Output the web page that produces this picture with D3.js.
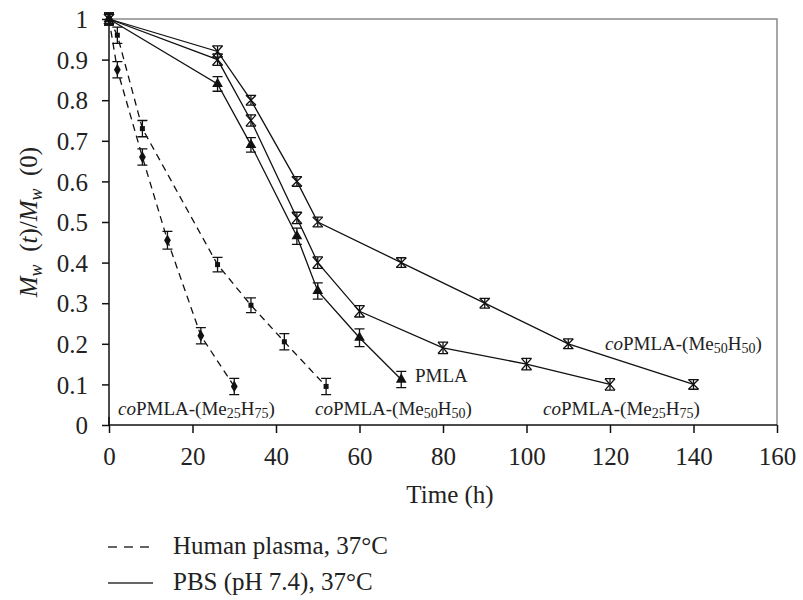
<!DOCTYPE html>
<html>
<head>
<meta charset="utf-8">
<script src="https://cdn.jsdelivr.net/npm/d3@7"></script>
<style>
  body { margin: 0; background: #fff; }
  text { font-family: "Liberation Serif", "Times New Roman", serif; fill: #222; }
</style>
</head>
<body>
<div id="chart"></div>
<script>
// Time points (h) and Mw(t)/Mw(0) values
const plasmaMe25Time = [0, 2, 8, 14, 22, 30];
const plasmaMe25Val  = [1, 0.875, 0.66, 0.455, 0.22, 0.095];
const plasmaMe25Err  = [0.015, 0.02, 0.02, 0.022, 0.02, 0.02];

const plasmaMe50Time = [0, 2, 8, 26, 34, 42, 52];
const plasmaMe50Val  = [1, 0.96, 0.73, 0.395, 0.295, 0.205, 0.095];
const plasmaMe50Err  = [0.015, 0.02, 0.02, 0.018, 0.018, 0.02, 0.02];

const pbsPmlaTime = [0, 26, 34, 45, 50, 60, 70];
const pbsPmlaVal  = [1, 0.84, 0.69, 0.465, 0.33, 0.215, 0.112];
const pbsPmlaErr  = [0.012, 0.018, 0.018, 0.02, 0.02, 0.022, 0.02];

const pbsMe25Time = [0, 26, 34, 45, 50, 60, 80, 100, 120];
const pbsMe25Val  = [1, 0.9, 0.75, 0.51, 0.4, 0.28, 0.19, 0.15, 0.1];
const pbsMe25Err  = [0.012, 0.014, 0.014, 0.014, 0.014, 0.014, 0.014, 0.014, 0.014];

const pbsMe50Time = [0, 26, 34, 45, 50, 70, 90, 110, 140];
const pbsMe50Val  = [1, 0.92, 0.8, 0.6, 0.5, 0.4, 0.3, 0.2, 0.1];
const pbsMe50Err  = [0.012, 0.014, 0.012, 0.012, 0.012, 0.012, 0.012, 0.012, 0.012];

const xTicks = [0, 20, 40, 60, 80, 100, 120, 140, 160];
const yTicks = [0, 0.1, 0.2, 0.3, 0.4, 0.5, 0.6, 0.7, 0.8, 0.9, 1];

const width = 803, height = 600;
const margin = { top: 19, right: 26, bottom: 175, left: 109 };
const serif = "Liberation Serif, Times New Roman, serif";

const svg = d3.select("#chart").append("svg")
    .attr("width", width)
    .attr("height", height);

const x = d3.scaleLinear().domain([0, 160]).range([margin.left, width - margin.right]);
const y = d3.scaleLinear().domain([0, 1]).range([height - margin.bottom, margin.top]);

const zip = (t, v, e) => t.map((d, i) => ({ t: d, v: v[i], e: e[i] }));

const series = [
    { data: zip(plasmaMe25Time, plasmaMe25Val, plasmaMe25Err), dashed: true, marker: "diamond" },
    { data: zip(plasmaMe50Time, plasmaMe50Val, plasmaMe50Err), dashed: true, marker: "square" },
    { data: zip(pbsPmlaTime, pbsPmlaVal, pbsPmlaErr), dashed: false, marker: "triangle" },
    { data: zip(pbsMe25Time, pbsMe25Val, pbsMe25Err), dashed: false, marker: "cross" },
    { data: zip(pbsMe50Time, pbsMe50Val, pbsMe50Err), dashed: false, marker: "cross" }
];

// frame (top and right in grey)
svg.append("path")
    .attr("d", `M${x(0)},${y(1)}H${x(160)}V${y(0)}`)
    .attr("fill", "none")
    .attr("stroke", "#8a8a8a")
    .attr("stroke-width", 1.5);

// axes
const xAxis = svg.append("g")
    .attr("transform", `translate(0,${y(0)})`)
    .call(d3.axisBottom(x).tickValues(xTicks).tickSize(8).tickPadding(14).tickFormat(d3.format("d")));
const yAxis = svg.append("g")
    .attr("transform", `translate(${x(0)},0)`)
    .call(d3.axisLeft(y).tickValues(yTicks).tickSize(7).tickPadding(14).tickFormat(d => d === 0 || d === 1 ? d : d3.format(".1f")(d)));

[xAxis, yAxis].forEach(g => {
    g.attr("font-family", serif).attr("font-size", 25);
    g.select(".domain").attr("stroke", "#111").attr("stroke-width", 1.5);
    g.selectAll(".tick line").attr("stroke", "#111").attr("stroke-width", 1.5);
    g.selectAll(".tick text")
        .attr("font-family", serif)
        .style("font-family", serif)
        .attr("fill", "#333");
});
xAxis.select(".domain").attr("d", `M${x(0)},0H${x(160)}`);
yAxis.select(".domain").attr("d", `M0,${y(0)}V${y(1)}`);
yAxis.selectAll(".tick text").attr("dy", "0.35em");
// tick at the origin crosses the axis
svg.append("line")
    .attr("x1", x(0)).attr("x2", x(0))
    .attr("y1", y(0) - 8).attr("y2", y(0))
    .attr("stroke", "#111").attr("stroke-width", 1.5);

const line = d3.line().x(d => x(d.t)).y(d => y(d.v));

series.forEach(s => {
    svg.append("path")
        .datum(s.data)
        .attr("fill", "none")
        .attr("stroke", "#111")
        .attr("stroke-width", 1.3)
        .attr("stroke-dasharray", s.dashed ? "7,5" : null)
        .attr("d", line);

    const g = svg.append("g");
    s.data.forEach(d => {
        const cx = x(d.t), cy = y(d.v), top = y(d.v + d.e), bot = y(d.v - d.e);
        // error bar
        g.append("path")
            .attr("d", `M${cx},${top}V${bot}M${cx - 5},${top}H${cx + 5}M${cx - 5},${bot}H${cx + 5}`)
            .attr("stroke", "#111")
            .attr("stroke-width", 1.3)
            .attr("fill", "none");
        if (s.marker === "diamond") {
            g.append("path")
                .attr("d", d3.symbol(d3.symbolDiamond, 40)())
                .attr("transform", `translate(${cx},${cy})`)
                .attr("fill", "#111");
        } else if (s.marker === "square") {
            g.append("rect")
                .attr("x", cx - 2.5).attr("y", cy - 2.5)
                .attr("width", 5).attr("height", 5)
                .attr("fill", "#111");
        } else if (s.marker === "triangle") {
            g.append("path")
                .attr("d", d3.symbol(d3.symbolTriangle, 50)())
                .attr("transform", `translate(${cx},${cy})`)
                .attr("fill", "#111");
        } else {
            g.append("path")
                .attr("d", `M${cx - 5},${top}L${cx + 5},${bot}M${cx + 5},${top}L${cx - 5},${bot}`)
                .attr("stroke", "#111")
                .attr("stroke-width", 1.3);
        }
    });
});

// series labels
function seriesLabel(px, py, parts) {
    const t = svg.append("text")
        .attr("x", px).attr("y", py)
        .style("font-size", "19px");
    parts.forEach(p => {
        const ts = t.append("tspan").text(p[0]);
        if (p[1] === "i") ts.style("font-style", "italic");
        if (p[1] === "sub") ts.style("font-size", "14px").attr("dy", 3);
        if (p[1] === "up") ts.attr("dy", -3);
    });
}
const me25 = [["co", "i"], ["PMLA-(Me"], ["25", "sub"], ["H", "up"], ["75", "sub"], [")", "up"]];
const me50 = [["co", "i"], ["PMLA-(Me"], ["50", "sub"], ["H", "up"], ["50", "sub"], [")", "up"]];
seriesLabel(118, 415, me25);
seriesLabel(315, 415, me50);
seriesLabel(415, 382, [["PMLA"]]);
seriesLabel(605, 350, me50);
seriesLabel(543, 415, me25);

// axis titles
svg.append("text")
    .attr("x", x(0) + (x(160) - x(0)) / 2 + 7)
    .attr("y", 503)
    .attr("text-anchor", "middle")
    .style("font-size", "25px")
    .text("Time (h)");

const yl = svg.append("text")
    .attr("transform", `translate(37,${(y(0) + y(1)) / 2}) rotate(-90)`)
    .attr("text-anchor", "middle")
    .style("font-size", "25px");
yl.append("tspan").text("M").style("font-style", "italic");
yl.append("tspan").text("w").style("font-style", "italic").style("font-size", "18px").attr("dy", 5);
yl.append("tspan").text("\u2002(").attr("dy", -5);
yl.append("tspan").text("t").style("font-style", "italic");
yl.append("tspan").text(")/");
yl.append("tspan").text("M").style("font-style", "italic");
yl.append("tspan").text("w").style("font-style", "italic").style("font-size", "18px").attr("dy", 5);
yl.append("tspan").text("\u2002(0)").attr("dy", -5);

// legend
const legendItems = [
    { label: "Human plasma, 37\u00b0C", dashed: true, y: 547 },
    { label: "PBS (pH 7.4), 37\u00b0C", dashed: false, y: 583 }
];
legendItems.forEach(d => {
    svg.append("line")
        .attr("x1", 108).attr("x2", 153)
        .attr("y1", d.y).attr("y2", d.y)
        .attr("stroke", "#333")
        .attr("stroke-width", 1.3)
        .attr("stroke-dasharray", d.dashed ? "9,7" : null);
    svg.append("text")
        .attr("x", 173).attr("y", d.y + 7)
        .style("font-size", "25px")
        .text(d.label);
});
</script>
</body>
</html>
